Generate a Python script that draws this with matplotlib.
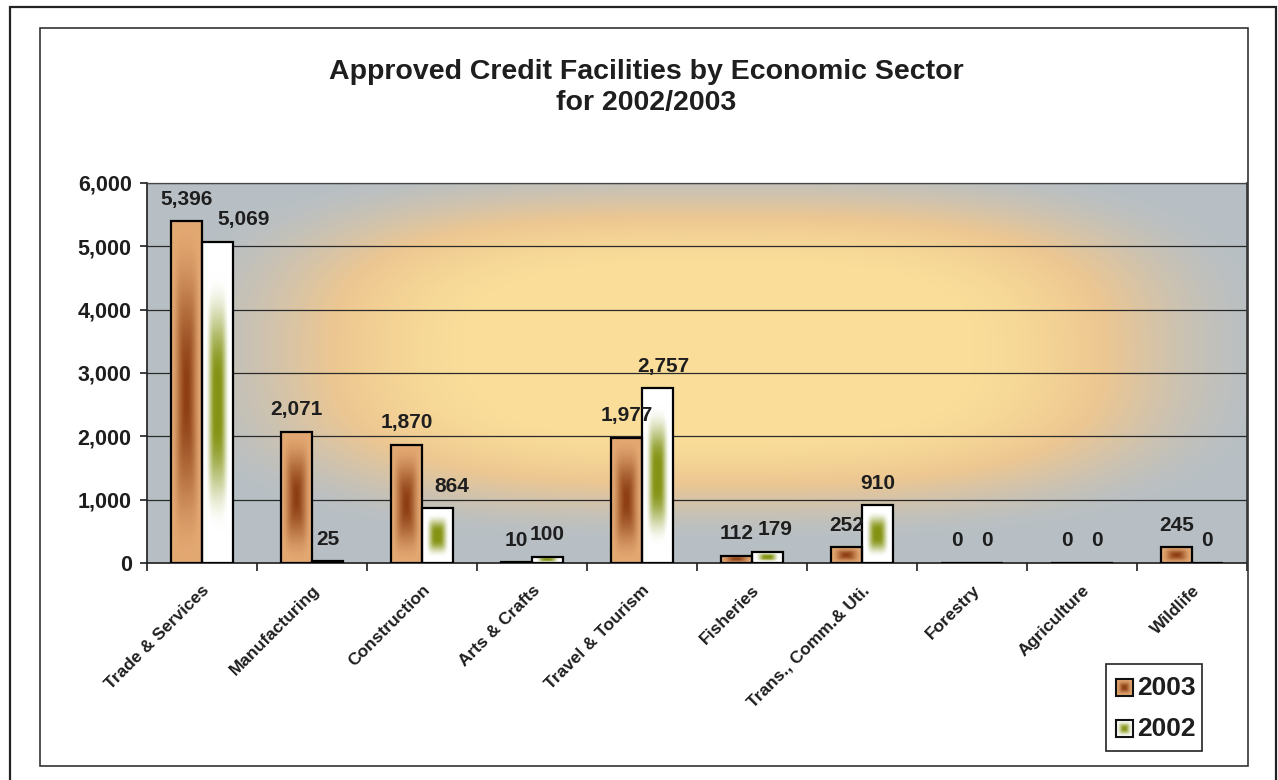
import numpy as np
import matplotlib
matplotlib.use("Agg")
import matplotlib.pyplot as plt
from matplotlib.patches import Rectangle
from matplotlib.ticker import FuncFormatter, FixedLocator

plt.rcParams["font.family"] = ["Liberation Sans", "DejaVu Sans"]
plt.rcParams["font.weight"] = "bold"

# data
sectors = [
    "Trade & Services",
    "Manufacturing",
    "Construction",
    "Arts & Crafts",
    "Travel & Tourism",
    "Fisheries",
    "Trans., Comm.& Uti.",
    "Forestry",
    "Agriculture",
    "Wildlife",
]
values_2003 = [5396, 2071, 1870, 10, 1977, 112, 252, 0, 0, 245]
values_2002 = [5069, 25, 864, 100, 2757, 179, 910, 0, 0, 0]
y_ticks = [0, 1000, 2000, 3000, 4000, 5000, 6000]

# small sideways nudges (pixels) for a few 2002 labels, as placed in the original
nudge_2002 = {0: 26, 2: 14, 4: 6, 5: 8}

W, H = 1278, 780
BROWN_EDGE = np.array([0.89, 0.66, 0.45])
BROWN_MID = np.array([0.55, 0.24, 0.07])
GREEN_EDGE = np.array([1.0, 1.0, 1.0])
GREEN_MID = np.array([0.52, 0.58, 0.08])
INK = "#1e1e1e"


def center_gradient(edge, mid, nx=40, ny=120, lo=0.0, hi=1.0):
    u = np.linspace(-1, 1, nx)[None, :]
    v = np.linspace(-1, 1, ny)[:, None]
    r = (np.abs(u) ** 4 + np.abs(v) ** 4) ** 0.25
    t = np.clip((1 - r - lo) / (hi - lo), 0, 1)
    t = t * t * (3 - 2 * t)
    return edge[None, None, :] + (mid - edge)[None, None, :] * t[:, :, None]


def background(nx=300, ny=200):
    X = np.linspace(0, 1, nx)[None, :]
    Y = np.linspace(1, 0, ny)[:, None]
    u = (X - 0.52) / 0.5
    v = (Y - 0.56) / 0.5
    r = (np.abs(u) ** 3 + np.abs(v) ** 3) ** (1 / 3)
    w = np.clip((1.02 - r) / 0.6, 0, 1)
    w = w * w * (3 - 2 * w)
    gray = np.array([0.72, 0.75, 0.77])
    peach = np.array([0.93, 0.78, 0.57])
    pale = np.array([0.98, 0.87, 0.60])
    w1 = np.minimum(w / 0.55, 1)
    w2 = np.clip((w - 0.55) / 0.45, 0, 1)
    c = gray + (peach - gray) * w1[:, :, None]
    c = c + (pale - peach) * w2[:, :, None]
    return c


fig = plt.figure(figsize=(W / 100, H / 100), dpi=100)
fig.patch.set_facecolor("white")

# page and chart frames
fig.patches.append(Rectangle((10 / W, -0.1), 1266 / W, 1.1 - 7 / H,
                             transform=fig.transFigure, fill=False,
                             edgecolor="#222222", lw=1.6))
fig.patches.append(Rectangle((40 / W, 1 - 766 / H), 1208 / W, 738 / H,
                             transform=fig.transFigure, fill=False,
                             edgecolor="#333333", lw=1.2))

ax = fig.add_axes([147 / W, 1 - 563 / H, 1100 / W, 380 / H])
x = np.arange(len(sectors))
bw = 0.28

ax.imshow(background(), extent=[-0.5, len(sectors) - 0.5, 0, 6000],
          aspect="auto", zorder=0, interpolation="bilinear")

for yv in y_ticks[1:]:
    ax.axhline(yv, color="#2a2a2a", lw=0.9, zorder=1)

bars03 = ax.bar(x - bw / 2, values_2003, bw, facecolor="none",
                edgecolor="black", lw=1.6, zorder=3)
bars02 = ax.bar(x + bw / 2, values_2002, bw, facecolor="none",
                edgecolor="black", lw=1.6, zorder=3)

for bars, edge, mid, lo, hi in [(bars03, BROWN_EDGE, BROWN_MID, 0.0, 1.0),
                                (bars02, GREEN_EDGE, GREEN_MID, 0.2, 0.85)]:
    for p in bars:
        if p.get_height() <= 0:
            continue
        img = center_gradient(edge, mid, lo=lo, hi=hi)
        im = ax.imshow(img, extent=[p.get_x(), p.get_x() + p.get_width(),
                                    0, p.get_height()],
                       aspect="auto", zorder=2, interpolation="bilinear")
        im.set_clip_path(p)

for bars, vals, nudge in [(bars03, values_2003, {}),
                          (bars02, values_2002, nudge_2002)]:
    for i, (p, v) in enumerate(zip(bars, vals)):
        ax.annotate(f"{v:,}", (p.get_x() + p.get_width() / 2, p.get_height()),
                    xytext=(nudge.get(i, 0) * 0.72, 9),
                    textcoords="offset points",
                    ha="center", va="bottom", fontsize=15,
                    fontweight="bold", color=INK, zorder=5)

ax.set_xlim(-0.5, len(sectors) - 0.5)
ax.set_ylim(0, 6000)
ax.set_yticks(y_ticks)
ax.yaxis.set_major_formatter(FuncFormatter(lambda v, _: f"{int(v):,}"))
ax.tick_params(axis="y", length=5, width=1.2, labelsize=15.5, pad=6,
               colors=INK)

ax.set_xticks(x)
ax.set_xticklabels(sectors, rotation=45, ha="right", rotation_mode="anchor",
                   fontsize=12.5, fontweight="bold", color=INK)
ax.tick_params(axis="x", which="major", length=0, pad=14)
ax.xaxis.set_minor_locator(FixedLocator(np.arange(len(sectors) + 1) - 0.5))
ax.tick_params(axis="x", which="minor", length=6, width=1.2, color=INK)

for s in ["top", "right"]:
    ax.spines[s].set_visible(False)
for s in ["left", "bottom"]:
    ax.spines[s].set_color(INK)
    ax.spines[s].set_linewidth(1.2)
ax.plot([1, 1], [0, 1], transform=ax.transAxes, color="#333333", lw=1.2,
        clip_on=False, zorder=6)
ax.plot([0, 1], [1, 1], transform=ax.transAxes, color="#444444", lw=0.9,
        clip_on=False, zorder=6)

fig.text(646 / W, 1 - 72 / H, "Approved Credit Facilities by Economic Sector",
         ha="center", va="center", fontsize=20.5, fontweight="bold",
         color=INK)
fig.text(646 / W, 1 - 103 / H, "for 2002/2003", ha="center", va="center",
         fontsize=20.5, fontweight="bold", color=INK)

# legend drawn by hand
lax = fig.add_axes([1106 / W, 1 - 751 / H, 96 / W, 87 / H])
lax.axis("off")
lax.add_patch(Rectangle((0, 0), 96, 87, fill=False, edgecolor="#222222",
                        lw=1.2, clip_on=False))
for yc, (edge, mid), label in [(23, (BROWN_EDGE, BROWN_MID), "2003"),
                               (64, (GREEN_EDGE, GREEN_MID), "2002")]:
    sw = center_gradient(edge, mid, nx=20, ny=20)
    lax.imshow(sw, extent=[10, 27, yc + 8.5, yc - 8.5], aspect="auto",
               interpolation="bilinear", zorder=2)
    lax.add_patch(Rectangle((10, yc - 8.5), 17, 17, fill=False,
                            edgecolor="#111111", lw=1.5, zorder=3))
    lax.text(31, yc + 1, label, ha="left", va="center", fontsize=19,
             fontweight="bold", color=INK)
lax.set_xlim(0, 96)
lax.set_ylim(87, 0)

fig.savefig("out.png", dpi=100)
